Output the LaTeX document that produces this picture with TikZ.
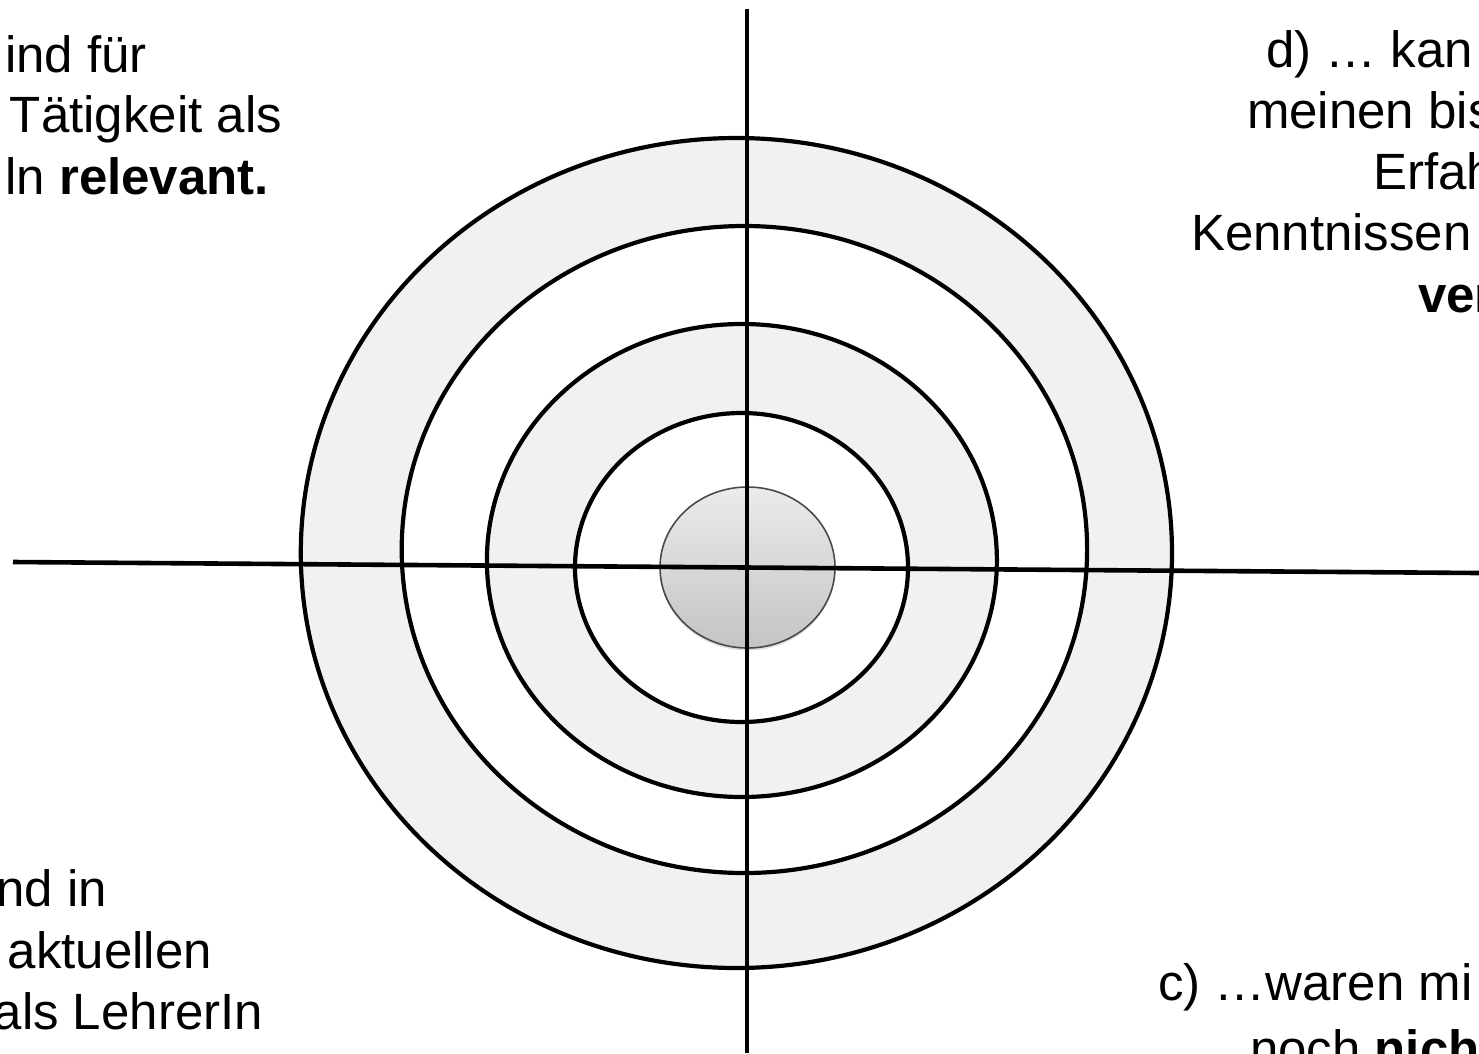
\documentclass[tikz,border=0pt]{standalone}
\usepackage{fontspec}
\setmainfont{Liberation Sans}
\usetikzlibrary{shadows}
\definecolor{bandgray}{HTML}{F1F1F1}
\definecolor{ctop}{HTML}{EBEBEB}
\definecolor{cbot}{HTML}{C4C4C4}
\definecolor{cedge}{HTML}{4A4A4A}
\begin{document}
\begin{tikzpicture}[x=1pt,y=-1pt,
  ring/.style={draw=black,line width=4.2pt},
  axisline/.style={draw=black,line width=4.6pt},
  lbl/.style={inner sep=0pt,outer sep=0pt,text=black,font=\fontsize{51}{61}\selectfont}]
\useasboundingbox (0,0) rectangle (1479,1053);
\fill[white] (0,0) rectangle (1479,1053);
% ring centres
\coordinate (c1) at (736.4,553);
\coordinate (c2) at (744.4,549.5);
\coordinate (c3) at (741.9,560.5);
\coordinate (c4) at (741.5,567.5);
\coordinate (c5) at (747.5,567.5);
% fills
\path[fill=bandgray] (c1) ellipse[x radius=435.6pt,y radius=415pt];
\path[fill=white] (c2) ellipse[x radius=342.7pt,y radius=323.5pt];
\path[fill=bandgray] (c3) ellipse[x radius=255pt,y radius=236.5pt];
\path[fill=white] (c4) ellipse[x radius=166.5pt,y radius=154.5pt];
% strokes
\path[ring] (c1) ellipse[x radius=435.6pt,y radius=415pt];
\path[ring] (c2) ellipse[x radius=342.7pt,y radius=323.5pt];
\path[ring] (c3) ellipse[x radius=255pt,y radius=236.5pt];
\path[ring] (c4) ellipse[x radius=166.5pt,y radius=154.5pt];
% centre disc
\path[top color=ctop,bottom color=cbot,draw=cedge,line width=1.6pt,
  drop shadow={opacity=0.25,shadow xshift=0pt,shadow yshift=-2.5pt}]
  (c5) ellipse[x radius=87.5pt,y radius=80.5pt];
% axes
\coordinate (hl) at (13,562);
\coordinate (hr) at (1479,573);
\coordinate (vt) at (747,9);
\coordinate (vb) at (747,1053);
\draw[axisline] (hl) -- (hr);
\draw[axisline] (vt) -- (vb);
% texts top left
\node[lbl,anchor=base east] (a1) at (147,72) {ind für};
\node[lbl,anchor=base east] (a2) at (282,132) {Tätigkeit als};
\node[lbl,anchor=base east] (a3) at (269,194) {ln \textbf{relevant.}};
% texts top right
\node[lbl,anchor=base west] (d1) at (1266,67) {d) … kan};
\node[lbl,anchor=base west] (d2) at (1247,128) {meinen bis};
\node[lbl,anchor=base west] (d3) at (1373,189) {Erfah};
\node[lbl,anchor=base west] (d4) at (1191,250) {Kenntnissen};
\node[lbl,anchor=base west] (d5) at (1418,312) {\textbf{ver}};
% texts bottom left
\node[lbl,anchor=base east] (b1) at (107,906) {nd in};
\node[lbl,anchor=base east] (b2) at (212,968) {aktuellen};
\node[lbl,anchor=base east] (b3) at (263,1029) {als LehrerIn};
% texts bottom right
\node[lbl,anchor=base west] (e1) at (1158,1000) {c) …waren mi};
\node[lbl,anchor=base west] (e2) at (1250,1066) {noch \textbf{nich}};
\end{tikzpicture}
\end{document}
